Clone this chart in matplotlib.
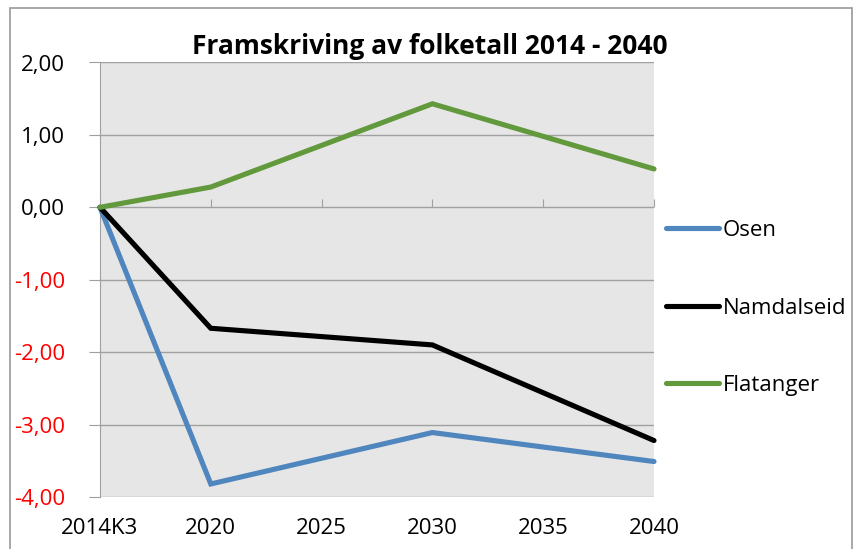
import numpy as np
import matplotlib.pyplot as plt
from matplotlib.patches import Rectangle
from matplotlib.ticker import FuncFormatter

plt.rcParams['font.family'] = ['Open Sans', 'DejaVu Sans']

categories = ["2014K3", "2020", "2025", "2030", "2035", "2040"]
osen = np.array([0.0, -3.82, np.nan, -3.11, np.nan, -3.51])
namdalseid = np.array([0.0, -1.67, np.nan, -1.90, np.nan, -3.22])
flatanger = np.array([0.0, 0.28, np.nan, 1.43, np.nan, 0.53])

series = [("Osen", osen, "#4f86be"),
          ("Namdalseid", namdalseid, "#000000"),
          ("Flatanger", flatanger, "#62993c")]

W, H = 857, 549
fig = plt.figure(figsize=(W / 100, H / 100), dpi=100)
ax = fig.add_axes([100 / W, 1 - 497 / H, 554 / W, 434.5 / H])
ax.set_facecolor("#e6e6e6")

x = np.arange(len(categories))
for name, vals, col in series:
    ok = np.isfinite(vals)
    ax.plot(x[ok], vals[ok], color=col, lw=3.7, label=name,
            solid_capstyle="round", solid_joinstyle="miter", clip_on=False, zorder=3)

ax.set_xlim(0, len(categories) - 1)
ax.set_ylim(-4, 2)
ax.set_yticks(np.arange(-4, 3, 1))
ax.yaxis.set_major_formatter(FuncFormatter(lambda v, p: f"{v:.2f}".replace(".", ",")))
ax.grid(axis="y", color="#a0a0a0", lw=1)
ax.set_axisbelow(True)

for s in ["top", "right", "bottom"]:
    ax.spines[s].set_visible(False)
ax.spines["left"].set_color("#a0a0a0")
ax.tick_params(axis="y", length=8, color="#a0a0a0", labelsize=16, pad=17)
for lab, v in zip(ax.get_yticklabels(), ax.get_yticks()):
    lab.set_color("red" if v < 0 else "black")

# category labels at the bottom, axis line with ticks at zero
ax.set_xticks(x)
ax.set_xticklabels(categories, fontsize=16)
ax.tick_params(axis="x", length=0, pad=15)
sec = ax.secondary_xaxis(4 / 6)
sec.set_xticks(x)
sec.tick_params(axis="x", direction="out", length=6, color="#a0a0a0", labelbottom=False, labeltop=False)
sec.spines["bottom"].set_color("#a0a0a0")
sec.spines["top"].set_visible(False)
sec.spines["bottom"].set_linewidth(1)

fig.text(430 / W, 1 - 47 / H, "Framskriving av folketall 2014 - 2040",
         ha="center", va="center", fontsize=19, fontweight="bold")

ax.legend(loc="center left", bbox_to_anchor=(655 / W, 1 - 308 / H),
          bbox_transform=fig.transFigure, frameon=False, fontsize=16,
          handlelength=2.4, handletextpad=0.15, labelspacing=2.55, borderpad=0)

fig.patches.append(Rectangle((10 / W, -0.05), 842 / W, 1.05 - 8 / H, transform=fig.transFigure,
                             fill=False, edgecolor="#a0a0a0", lw=1.3))

fig.savefig("out.png", dpi=100)
